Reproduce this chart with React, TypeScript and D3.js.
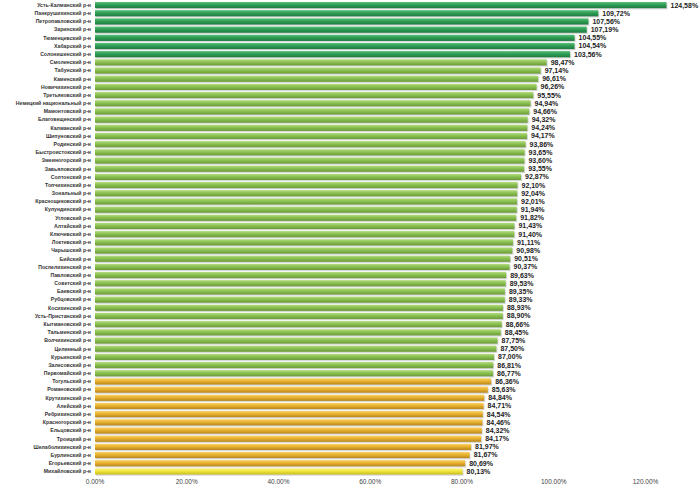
import React from "react";
import * as d3 from "d3";

const categories = [
  "Усть-Калманский р-н", "Панкрушихинский р-н", "Петропавловский р-н", "Заринский р-н",
  "Тюменцевский р-н", "Хабарский р-н", "Солонешенский р-н", "Смоленский р-н",
  "Табунский р-н", "Каменский р-н", "Новичихинский р-н", "Третьяковский р-н",
  "Немецкий национальный р-н", "Мамонтовский р-н", "Благовещенский р-н", "Калманский р-н",
  "Шипуновский р-н", "Родинский р-н", "Быстроистокский р-н", "Змеиногорский р-н",
  "Завьяловский р-н", "Солтонский р-н", "Топчихинский р-н", "Зональный р-н",
  "Краснощековский р-н", "Кулундинский р-н", "Угловский р-н", "Алтайский р-н",
  "Ключевский р-н", "Локтевский р-н", "Чарышский р-н", "Бийский р-н",
  "Поспелихинский р-н", "Павловский р-н", "Советский р-н", "Баевский р-н",
  "Рубцовский р-н", "Косихинский р-н", "Усть-Пристанский р-н", "Кытмановский р-н",
  "Тальменский р-н", "Волчихинский р-н", "Целинный р-н", "Курьинский р-н",
  "Залесовский р-н", "Первомайский р-н", "Тогульский р-н", "Романовский р-н",
  "Крутихинский р-н", "Алейский р-н", "Ребрихинский р-н", "Красногорский р-н",
  "Ельцовский р-н", "Троицкий р-н", "Шелаболихинский р-н", "Бурлинский р-н",
  "Егорьевский р-н", "Михайловский р-н",
];

const values = [
  124.58, 109.72, 107.56, 107.19, 104.55, 104.54, 103.56, 98.47,
  97.14, 96.61, 96.26, 95.55, 94.94, 94.66, 94.32, 94.24,
  94.17, 93.86, 93.65, 93.6, 93.55, 92.87, 92.1, 92.04,
  92.01, 91.94, 91.82, 91.43, 91.4, 91.11, 90.98, 90.51,
  90.37, 89.63, 89.53, 89.35, 89.33, 88.93, 88.9, 88.66,
  88.45, 87.75, 87.5, 87.0, 86.81, 86.77, 86.36, 85.63,
  84.84, 84.71, 84.54, 84.46, 84.32, 84.17, 81.97, 81.67,
  80.69, 80.13,
];

// group per bar: 0 dark green, 1 light green, 2 orange, 3 yellow
const groups = [
  0, 0, 0, 0, 0, 0, 0, 1, 1, 1, 1, 1, 1, 1, 1, 1, 1, 1, 1, 1, 1, 1, 1, 1, 1, 1, 1, 1, 1,
  1, 1, 1, 1, 1, 1, 1, 1, 1, 1, 1, 1, 1, 1, 1, 1, 1, 2, 2, 2, 2, 2, 2, 2, 2, 2, 2, 2, 3,
];

const xTicks = [0, 20, 40, 60, 80, 100, 120];

const groupColors = [
  { top: "#5cc07a", main: "#2f9e55", bottom: "#1f7a3e" },
  { top: "#b4dc82", main: "#8cc152", bottom: "#6a9a38" },
  { top: "#f6d26a", main: "#e9b22e", bottom: "#b8861c" },
  { top: "#fbf48a", main: "#efe63c", bottom: "#c8bd20" },
];

const W = 700;
const H = 488;

export default function App() {
  const x = d3.scaleLinear().domain([0, 120]).range([95, 645.5]);
  const y = d3
    .scaleBand<string>()
    .domain(categories)
    .range([1, 475.5])
    .paddingInner(0.24)
    .paddingOuter(0.12);
  const bh = y.bandwidth();
  const fmt = (v: number) => v.toFixed(2).replace(".", ",") + "%";
  const fmtTick = (v: number) => v.toFixed(2) + "%";

  return (
    <div style={{ position: "fixed", left: 0, top: 0, width: W, height: H, background: "#fff" }}>
      <svg width={W} height={H} style={{ display: "block" }}>
        <defs>
          {groupColors.map((c, i) => (
            <linearGradient key={i} id={`g${i}`} x1="0" y1="0" x2="0" y2="1">
              <stop offset="0%" stopColor={c.top} />
              <stop offset="45%" stopColor={c.main} />
              <stop offset="100%" stopColor={c.bottom} />
            </linearGradient>
          ))}
        </defs>
        {categories.map((c, i) => {
          const yy = y(c)!;
          const x0 = x(0);
          const x1 = x(values[i]);
          return (
            <g key={c}>
              <rect x={x0 + 1} y={yy + 1.2} width={x1 - x0} height={bh} fill="#c8c8c8" opacity={0.7} />
              <rect x={x0} y={yy} width={x1 - x0} height={bh} fill={`url(#g${groups[i]})`} />
              <text
                x={x0 - 4}
                y={yy + bh / 2}
                dy="0.35em"
                textAnchor="end"
                fontSize={5.2}
                fontWeight="bold"
                fontFamily="'Liberation Sans', Arial, sans-serif"
                fill="#333"
              >
                {c}
              </text>
              <text
                x={x1 + 4}
                y={yy + bh / 2}
                dy="0.35em"
                fontSize={7}
                fontWeight="bold"
                fontFamily="'Liberation Sans', Arial, sans-serif"
                fill="#222"
              >
                {fmt(values[i])}
              </text>
            </g>
          );
        })}
        {xTicks.map((t) => (
          <text
            key={t}
            x={x(t)}
            y={484}
            textAnchor="middle"
            fontSize={6.5}
            fontFamily="'Liberation Sans', Arial, sans-serif"
            fill="#444"
          >
            {fmtTick(t)}
          </text>
        ))}
      </svg>
    </div>
  );
}
